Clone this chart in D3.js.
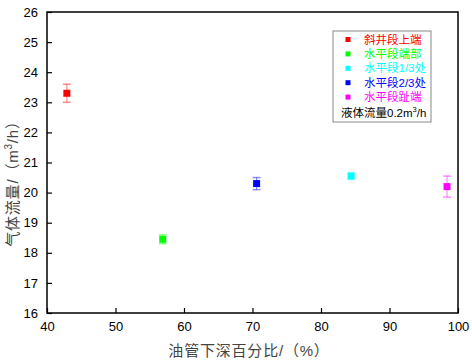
<!DOCTYPE html>
<html>
<head>
<meta charset="utf-8">
<style> body { margin: 0; background: #fff; } text { font-family: "Liberation Sans", Arial, "Noto Sans CJK SC", sans-serif; } </style>
<script src="https://cdn.jsdelivr.net/npm/d3@7"></script>
</head>
<body>
<div id="chart"></div>
<script>
var names = ["斜井段上端", "水平段端部", "水平段1/3处", "水平段2/3处", "水平段趾端"];
var colors = ["#ff0000", "#00ff00", "#00ffff", "#0000ff", "#ff00ff"];
var xVals = [42.9, 56.9, 84.4, 70.6, 98.4];
var yVals = [23.3, 18.45, 20.55, 20.3, 20.2];
var errs = [0.3, 0.15, 0.1, 0.2, 0.35];
var xTicks = [40, 50, 60, 70, 80, 90, 100];
var yTicks = [16, 17, 18, 19, 20, 21, 22, 23, 24, 25, 26];

var W = 472, H = 363;
var margin = {top: 12, right: 14, bottom: 50, left: 47};
var width = W - margin.left - margin.right,
    height = H - margin.top - margin.bottom;

var svg = d3.select("#chart").append("svg").attr("width", W).attr("height", H);
var g = svg.append("g").attr("transform", "translate(" + margin.left + "," + margin.top + ")");

var x = d3.scaleLinear().domain([40, 100]).range([0, width]);
var y = d3.scaleLinear().domain([16, 26]).range([height, 0]);

// axes, ticks inward
var xa = g.append("g").attr("transform", "translate(0," + height + ")")
    .call(d3.axisBottom(x).tickValues(xTicks).tickSizeInner(-5).tickSizeOuter(0).tickPadding(9));
var ya = g.append("g")
    .call(d3.axisLeft(y).tickValues(yTicks).tickSizeInner(-5).tickSizeOuter(0).tickPadding(9));
[xa, ya].forEach(function(a) {
    a.selectAll("text").attr("font-size", 13).attr("fill", "#000")
        .style("font-family", "'Liberation Sans', Arial, sans-serif");
    a.selectAll("line").attr("stroke", "#000").attr("stroke-width", 1.2);
    a.select(".domain").remove();
});

g.append("rect").attr("width", width).attr("height", height)
    .attr("fill", "none").attr("stroke", "#000").attr("stroke-width", 1.5);

// points with error bars
var pts = g.selectAll(".pt").data(names).enter().append("g").attr("class", "pt");
pts.append("line")
    .attr("x1", (d, i) => x(xVals[i])).attr("x2", (d, i) => x(xVals[i]))
    .attr("y1", (d, i) => y(yVals[i] + errs[i])).attr("y2", (d, i) => y(yVals[i] - errs[i]))
    .attr("stroke", (d, i) => colors[i]).attr("stroke-opacity", 0.45).attr("stroke-width", 1.2);
[1, -1].forEach(function(s) {
    pts.append("line")
        .attr("x1", (d, i) => x(xVals[i]) - 4).attr("x2", (d, i) => x(xVals[i]) + 4)
        .attr("y1", (d, i) => y(yVals[i] + s * errs[i])).attr("y2", (d, i) => y(yVals[i] + s * errs[i]))
        .attr("stroke", (d, i) => colors[i]).attr("stroke-opacity", 0.45).attr("stroke-width", 1.5);
});
pts.append("rect")
    .attr("x", (d, i) => x(xVals[i]) - 3.5).attr("y", (d, i) => y(yVals[i]) - 3.5)
    .attr("width", 7).attr("height", 7)
    .attr("fill", (d, i) => colors[i]);

// legend
var lg = svg.append("g").attr("transform", "translate(333,31)");
lg.append("rect").attr("width", 98).attr("height", 91)
    .attr("fill", "#fff").attr("stroke", "#888").attr("stroke-width", 1);
names.forEach(function(n, i) {
    lg.append("rect").attr("x", 12.5).attr("y", 6 + i * 14.4).attr("width", 5).attr("height", 5).attr("fill", colors[i]);
    lg.append("text").attr("x", 31).attr("y", 12.5 + i * 14.4).attr("font-size", 11.5)
        .attr("fill", colors[i]).text(n);
});
var lt = lg.append("text").attr("x", 8).attr("y", 86).attr("font-size", 11.5).attr("fill", "#000");
lt.append("tspan").text("液体流量0.2m");
lt.append("tspan").attr("font-size", 7.5).attr("dy", -5).text("3");
lt.append("tspan").attr("dy", 5).text("/h");

// axis titles
svg.append("text").attr("x", 249).attr("y", 356)
    .attr("text-anchor", "middle").attr("font-size", 15).attr("fill", "#444")
    .attr("letter-spacing", 0.8)
    .text("油管下深百分比/（%）");
var yt = svg.append("text").attr("transform", "translate(18,180) rotate(-90)")
    .attr("text-anchor", "middle").attr("font-size", 15).attr("fill", "#444")
    .attr("letter-spacing", 0.8);
yt.append("tspan").text("气体流量/（m");
yt.append("tspan").attr("font-size", 10).attr("dy", -6).text("3");
yt.append("tspan").attr("dy", 6).text("/h）");
</script>
</body>
</html>
